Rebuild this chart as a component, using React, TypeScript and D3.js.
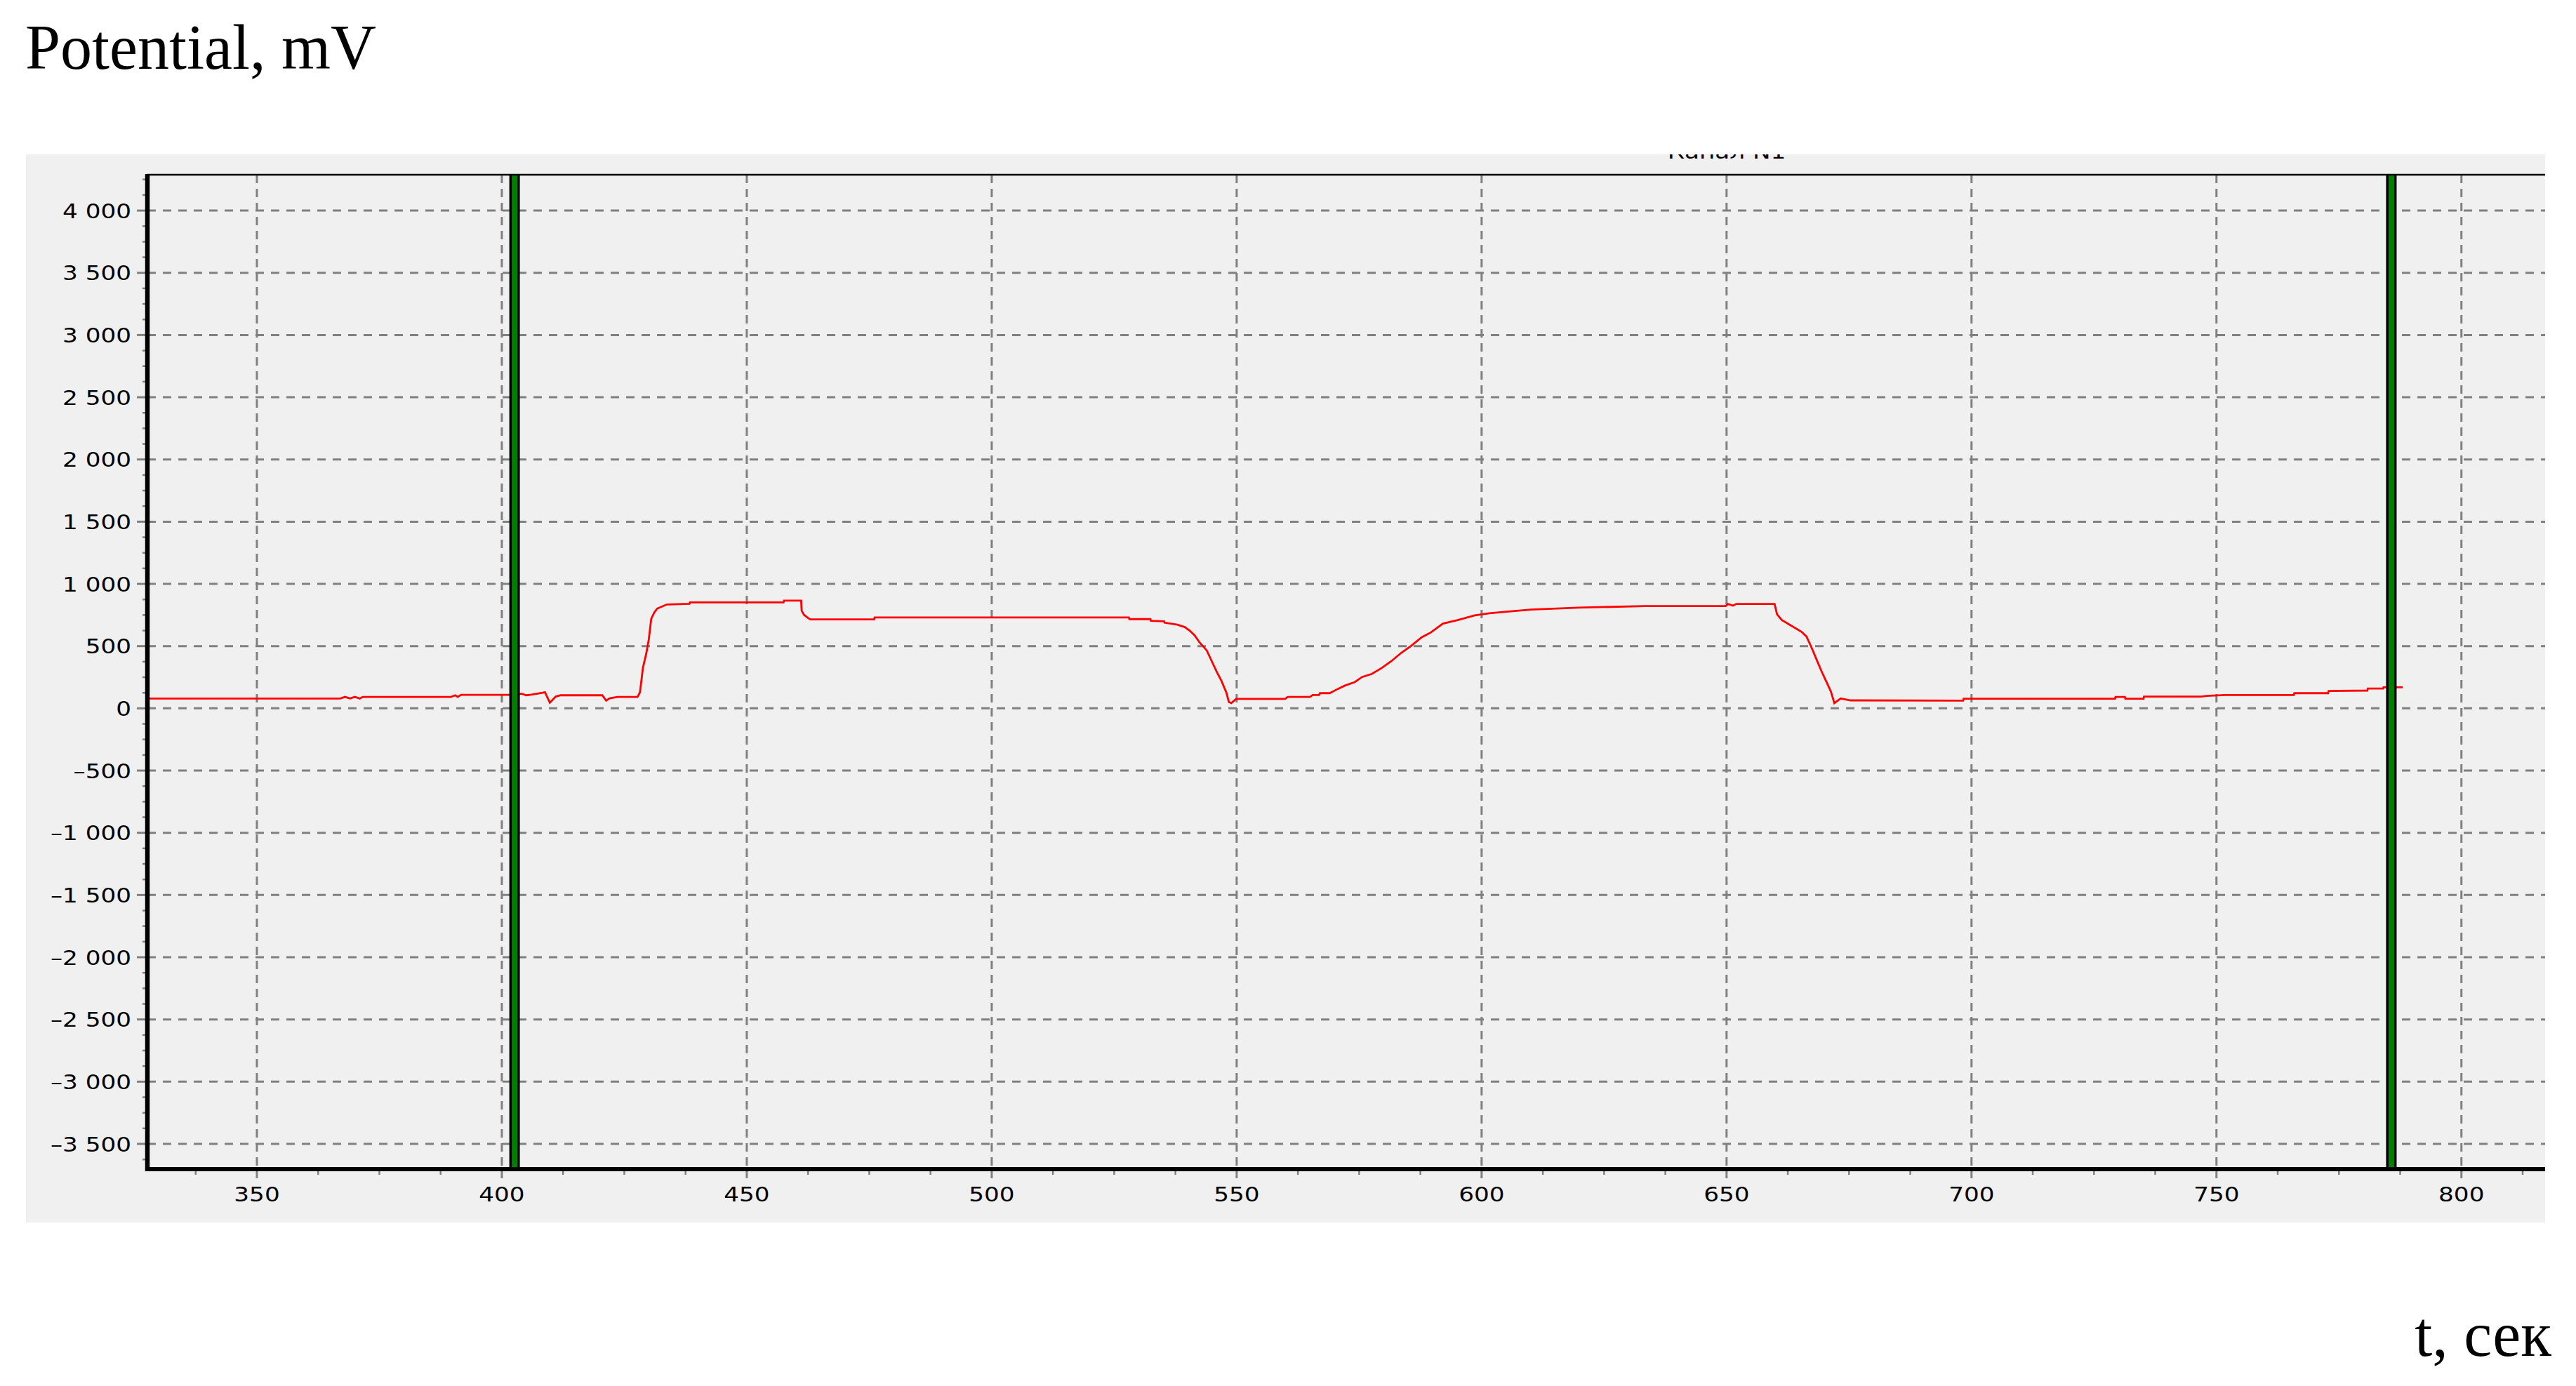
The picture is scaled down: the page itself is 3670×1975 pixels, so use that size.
import * as d3 from "d3";

// time, s  /  potential, mV
const times = [
  327.8, 367, 368, 369, 370, 371, 371.6, 389.6, 390.5, 391, 391.7, 398, 403, 404, 405, 406,
  408.3, 408.8, 409.8, 411, 412, 420.5, 421.3, 422, 423.6, 427.7, 428.2, 428.8, 429.5, 430,
  430.5, 431.1, 431.7, 432.7, 433.7, 438.3, 438.4, 457.5, 457.6, 461.1, 461.2, 461.7, 462.6,
  463, 476, 476.1, 528, 528.1, 532.4, 532.5, 535.2, 535.3, 537.9, 539.4, 540.4, 541.4, 542.4,
  543.9, 544.9, 545.9, 546.9, 547.9, 548.4, 548.9, 549.9, 559.9, 560.4, 565, 565.5, 566.8,
  567, 569, 570.6, 572.1, 574.1, 575.6, 577.6, 579.6, 581.6, 583.6, 585.6, 587.8, 589.6,
  592.1, 595.1, 598.6, 601.6, 605.1, 610.1, 619.7, 633.3, 649.8, 650.3, 651.3, 652, 659.8,
  660.3, 661.3, 663.3, 665.3, 666.3, 667.3, 668.3, 669.3, 670.3, 671.3, 672, 673.3, 675.3,
  698.3, 698.4, 729.3, 729.4, 731.3, 731.4, 735.1, 735.2, 746.9, 748, 751.7, 765.8, 765.9,
  772.8, 772.9, 780.8, 780.9, 784, 784.1, 788,
];
const potentials = [
  79, 79, 92, 79, 92, 79, 92, 92, 105, 92, 109, 109, 109, 118, 105, 110,
  125, 130, 45, 95, 105, 105, 62, 80, 92, 92, 129, 326, 444, 555,
  720, 769, 801, 818, 835, 840, 852, 852, 866, 866, 785, 751, 723,
  715, 715, 730, 730, 717, 717, 704, 700, 688, 672, 653, 625, 587, 531,
  465, 380, 296, 220, 126, 51, 42, 76, 76, 92, 92, 107, 107,
  122, 122, 155, 183, 211, 252, 277, 324, 380, 446, 502, 572, 609,
  681, 709, 747, 764, 777, 794, 809, 822, 822, 839, 825, 839, 839,
  756, 709, 662, 615, 578, 493, 399, 305, 220, 135, 42, 79, 64,
  62, 77, 77, 92, 92, 77, 77, 94, 94, 100, 107, 107, 122,
  122, 140, 143, 159, 159, 169, 169,
];

const cursorTimes = [402.6, 785.7];

const xTicks = [350, 400, 450, 500, 550, 600, 650, 700, 750, 800];
const xTickLabels = ["350", "400", "450", "500", "550", "600", "650", "700", "750", "800"];
const yTicks = [4000, 3500, 3000, 2500, 2000, 1500, 1000, 500, 0, -500, -1000, -1500, -2000, -2500, -3000, -3500];
const yTickLabels = [
  "4 000", "3 500", "3 000", "2 500", "2 000", "1 500", "1 000", "500", "0",
  "–500", "–1 000", "–1 500", "–2 000", "–2 500", "–3 000", "–3 500",
];

const W = 3670;
const H = 1975;
const panel = { x: 37, y: 220, w: 3589, h: 1522 };
const plot = { left: 210, right: 3624, top: 249, bottom: 1666 };
const grid = "#808080";
const tickFont = "'DejaVu Sans', Verdana, sans-serif";

export default function App() {
  const x = d3.scaleLinear().domain([327.65, 816.8]).range([plot.left, plot.right]);
  const y = d3.scaleLinear().domain([-3703, 4288]).range([plot.bottom, plot.top]);

  const pts: [number, number][] = times.map((t, i) => [t, potentials[i]]);
  const line = d3
    .line<[number, number]>()
    .x((d) => x(d[0]))
    .y((d) => y(d[1]));

  const xMinor = d3.range(337.5, 816, 12.5).filter((t) => t % 50 !== 0);
  const yMinor = d3.range(-3625, 4288, 125).filter((v) => v % 500 !== 0);

  return (
    <svg
      width={W}
      height={H}
      style={{ position: "absolute", left: 0, top: 0, background: "#fff" }}
    >
      <defs>
        <clipPath id="panelClip">
          <rect x={panel.x} y={panel.y} width={panel.w} height={panel.h} />
        </clipPath>
        <clipPath id="plotClip">
          <rect x={plot.left} y={plot.top} width={panel.x + panel.w - plot.left} height={plot.bottom - plot.top} />
        </clipPath>
      </defs>

      <rect width={W} height={H} fill="#fff" />

      {/* titles */}
      <text x={36} y={98} fontFamily="'Liberation Serif', 'Times New Roman', serif" fontSize={90} fill="#000">
        Potential, mV
      </text>
      <text
        x={3635}
        y={1932}
        textAnchor="end"
        fontFamily="'Liberation Serif', 'Times New Roman', serif"
        fontSize={90}
        fill="#000"
      >
        t, сек
      </text>

      {/* chart panel */}
      <rect x={panel.x} y={panel.y} width={panel.w} height={panel.h} fill="#f0f0f0" />

      <g clipPath="url(#panelClip)">
        {/* chart caption, mostly hidden above the panel */}
        <text
          transform="translate(2460,226) scale(1.18,1)"
          textAnchor="middle"
          fontFamily={tickFont}
          fontSize={29}
          fill="#000"
        >
          Канал N1
        </text>

        {/* grid */}
        {yTicks.map((v) => (
          <line
            key={"gy" + v}
            x1={plot.left}
            x2={panel.x + panel.w}
            y1={y(v)}
            y2={y(v)}
            stroke={grid}
            strokeWidth={3}
            strokeDasharray="12 10"
          />
        ))}
        {xTicks.map((t) => (
          <line
            key={"gx" + t}
            x1={x(t)}
            x2={x(t)}
            y1={plot.top}
            y2={plot.bottom}
            stroke={grid}
            strokeWidth={3}
            strokeDasharray="12 8"
          />
        ))}

        {/* signal */}
        <path d={line(pts) ?? ""} fill="none" stroke="#ff0000" strokeWidth={2.8} clipPath="url(#plotClip)" />

        {/* cursors */}
        {cursorTimes.map((t) => (
          <g key={"c" + t}>
            <rect x={x(t) - 7.5} y={plot.top} width={15} height={plot.bottom - plot.top} fill="#000" />
            <rect x={x(t) - 4} y={plot.top} width={8} height={plot.bottom - plot.top} fill="#008000" />
          </g>
        ))}

        {/* frame */}
        <line x1={plot.left} x2={panel.x + panel.w} y1={plot.top} y2={plot.top} stroke="#000" strokeWidth={2.5} />

        {/* y ticks */}
        {yMinor.map((v) => (
          <line key={"my" + v} x1={203} x2={plot.left} y1={y(v)} y2={y(v)} stroke={grid} strokeWidth={2.5} />
        ))}
        {yTicks.map((v) => (
          <line key={"ty" + v} x1={195} x2={plot.left} y1={y(v)} y2={y(v)} stroke={grid} strokeWidth={3} />
        ))}

        {/* x ticks */}
        {xMinor.map((t) => (
          <line key={"mx" + t} x1={x(t)} x2={x(t)} y1={plot.bottom} y2={1674} stroke={grid} strokeWidth={2.5} />
        ))}
        {xTicks.map((t) => (
          <line key={"tx" + t} x1={x(t)} x2={x(t)} y1={plot.bottom} y2={1679} stroke={grid} strokeWidth={3} />
        ))}

        {/* axes */}
        <line x1={plot.left} x2={plot.left} y1={plot.top - 1} y2={plot.bottom + 3} stroke="#000" strokeWidth={6.5} />
        <line x1={plot.left - 3} x2={panel.x + panel.w} y1={plot.bottom} y2={plot.bottom} stroke="#000" strokeWidth={6} />

        {/* tick labels */}
        {yTicks.map((v, i) => (
          <text
            key={"ly" + v}
            transform={`translate(187,${y(v) + 10.5}) scale(1.18,1)`}
            textAnchor="end"
            fontFamily={tickFont}
            fontSize={29}
            fill="#000"
          >
            {yTickLabels[i]}
          </text>
        ))}
        {xTicks.map((t, i) => (
          <text
            key={"lx" + t}
            transform={`translate(${x(t)},1712) scale(1.18,1)`}
            textAnchor="middle"
            fontFamily={tickFont}
            fontSize={29}
            fill="#000"
          >
            {xTickLabels[i]}
          </text>
        ))}
      </g>
    </svg>
  );
}
